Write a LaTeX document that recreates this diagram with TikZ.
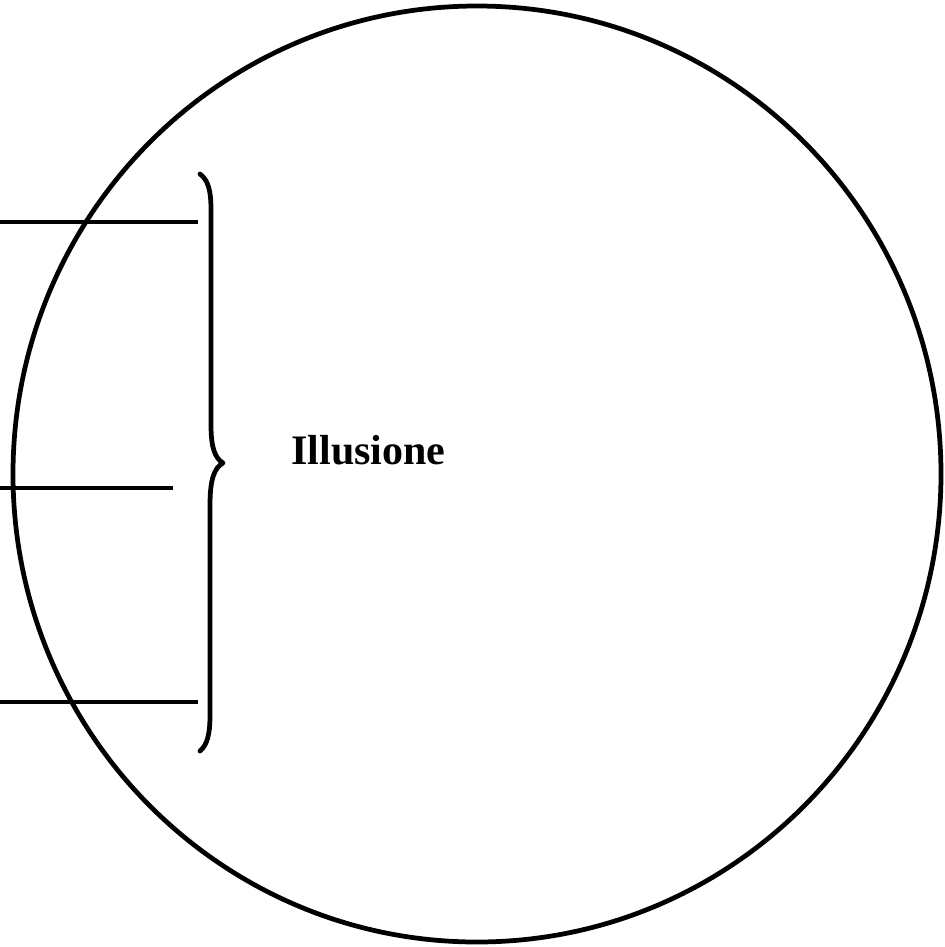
\documentclass[tikz,border=0pt]{standalone}
\usepackage{fontspec}
\setmainfont{Liberation Serif}
\usetikzlibrary{positioning,calc}

\begin{document}
\begin{tikzpicture}[x=0.02cm,y=-0.02cm,line width=2.7pt,every node/.style={inner sep=0pt,font=\fontsize{23.9}{28}\selectfont\bfseries}]
    \useasboundingbox (0,0) rectangle (945,947);
    \coordinate (ctr) at (477,474);
    \draw (ctr) ellipse [x radius=464, y radius=468];
    % three strokes from the left edge
    \coordinate (a1) at (0,222);   \coordinate (b1) at (198,222);
    \coordinate (a2) at (0,488);   \coordinate (b2) at (173,488);
    \coordinate (a3) at (0,702);   \coordinate (b3) at (198,702);
    \draw (a1)--(b1);
    \draw (a2)--(b2);
    \draw (a3)--(b3);
    % brace
    \coordinate (top) at (200,174);
    \coordinate (tip) at (223,463);
    \coordinate (bot) at (200,751);
    \draw[line cap=round,line join=round] (top) .. controls (208,180) and (211,190) .. (211,210)
        -- (211,425) .. controls (211,448) and (215,458) .. (tip)
        .. controls (214,468) and (210,480) .. (210,505)
        -- (210,715) .. controls (210,735) and (207,745) .. (bot);
    \node[anchor=base west] (lbl) at (289,464) {Illusione};
  \end{tikzpicture}
\end{document}
